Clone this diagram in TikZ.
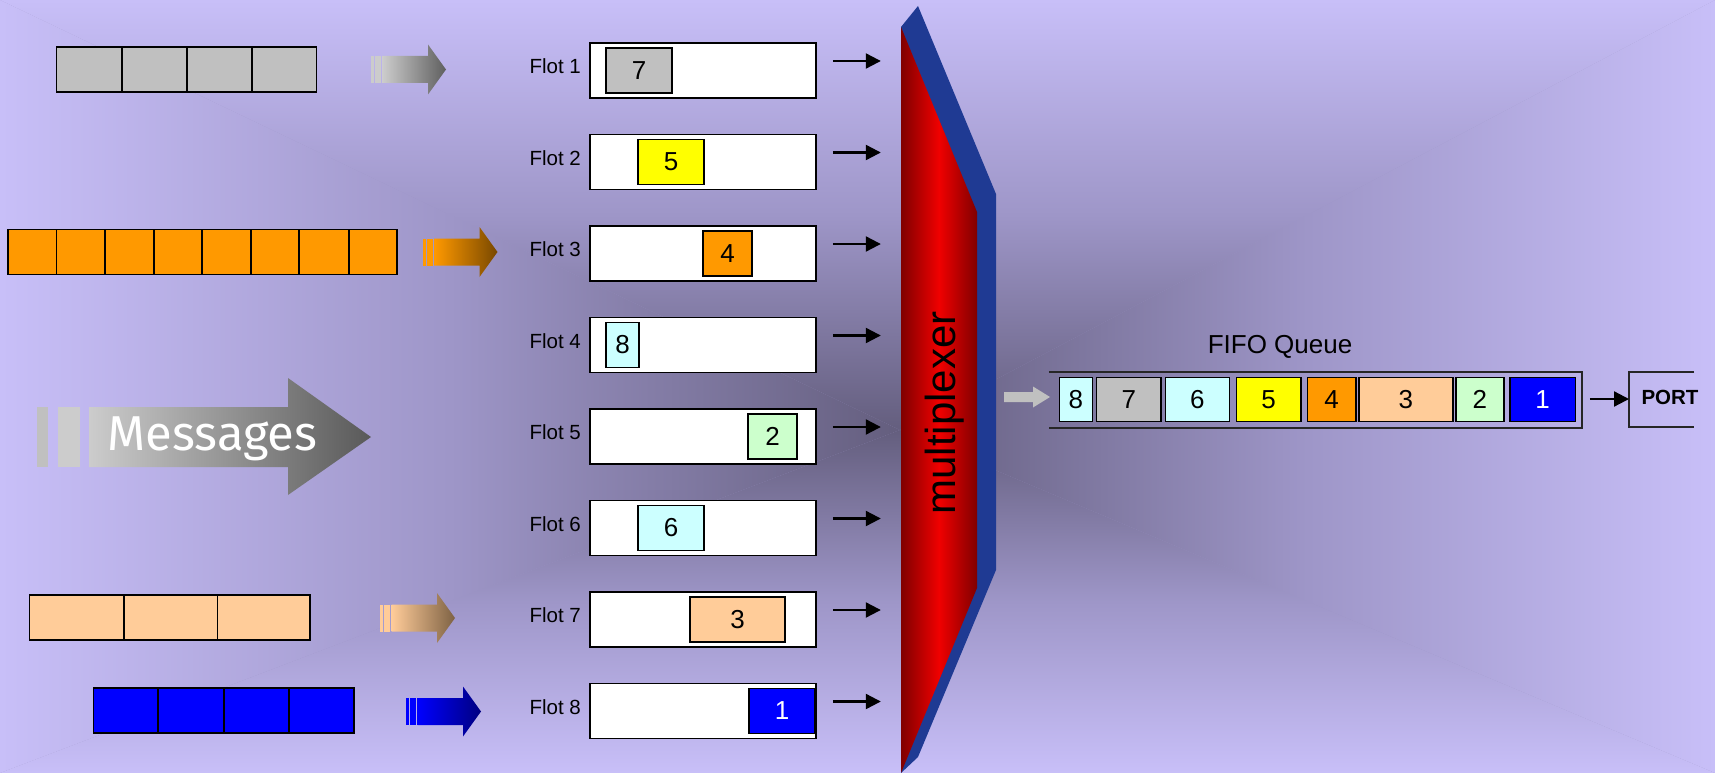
\documentclass[tikz,border=0pt]{standalone}
\usepackage{fontspec}
\setmainfont{Liberation Sans}
\newfontfamily\msgfont{Fira Sans}
\usetikzlibrary{arrows.meta}
\definecolor{bgL}{RGB}{200,191,248}
\definecolor{bgM}{RGB}{158,150,200}
\definecolor{bgD}{RGB}{100,94,126}
\definecolor{cgray}{RGB}{192,192,192}
\definecolor{corange}{RGB}{255,153,0}
\definecolor{cpeach}{RGB}{255,204,153}
\definecolor{cblue}{RGB}{0,0,255}
\definecolor{cyanl}{RGB}{204,255,255}
\definecolor{cyellow}{RGB}{255,255,0}
\definecolor{lgreen}{RGB}{204,255,204}
\definecolor{muxblue}{RGB}{31,58,147}
\definecolor{muxdark}{RGB}{128,0,0}
\definecolor{muxred}{RGB}{240,0,0}
\newcommand\barrow[5]{%
  \fill[#4] (#2,#3-13.5) rectangle (#2+3,#3+13.5);
  \fill[#4] (#2+4,#3-13.5) rectangle (#2+10,#3+13.5);
  \shade[left color=#4,right color=#5] (#2+11.5,#3-13.5) -- (#2+57,#3-13.5) -- (#2+57,#3-25) -- (#2+75,#3) coordinate (#1) -- (#2+57,#3+25) -- (#2+57,#3+13.5) -- (#2+11.5,#3+13.5) -- cycle;}
\begin{document}
\begin{tikzpicture}[x=1pt,y=-1pt,
  blk/.style={draw=black,line width=1.4pt,inner sep=0pt,outer sep=0pt,minimum height=45pt},
  flotbox/.style={draw=black,line width=1.6pt,fill=white,inner sep=0pt,minimum width=226pt,minimum height=55pt},
  flotlbl/.style={font=\fontsize{20.5}{24}\selectfont,inner sep=0pt},
  pkt/.style={draw=black,line width=1.4pt,inner sep=0pt,minimum height=45pt,font=\fontsize{26}{30}\selectfont},
  qcell/.style={draw=black,line width=1.4pt,inner sep=0pt,minimum height=44pt,font=\fontsize{26}{30}\selectfont},
  smallarr/.style={line width=2.2pt,-{Triangle[length=15pt,width=15pt]}},
  frame/.style={draw=black!85,line width=1.8pt}]
\useasboundingbox (0,0) rectangle (1715,773);
% background rectangular gradient
\coordinate (C) at (900,430);
\fill[bgM] (0,0) rectangle (1715,773);
\shade[top color=bgL,bottom color=bgD,middle color=bgM] (0,0) -- (1715,0) -- (C) -- cycle;
\shade[left color=bgL,right color=bgD,middle color=bgM] (0,0) -- (C) -- (0,773) -- cycle;
\shade[left color=bgD,right color=bgL,middle color=bgM] (1715,0) -- (C) -- (1715,773) -- cycle;
\shade[top color=bgD,bottom color=bgL,middle color=bgM] (0,773) -- (C) -- (1715,773) -- cycle;

% incoming message rows
\foreach \x [remember=\x as \px (initially 56.4), count=\i] in {121.8,186.8,251.8,316.4}
  \node[blk,fill=cgray,minimum width={(\x-\px)*1pt}] (gr\i) at ({(\x+\px)/2},69.5) {};
\foreach \x [remember=\x as \px (initially 7.9), count=\i] in {56.4,105,154,202,251,299,349,397}
  \node[blk,fill=corange,minimum width={(\x-\px)*1pt}] (or\i) at ({(\x+\px)/2},252) {};
\foreach \x [remember=\x as \px (initially 29.6), count=\i] in {124,217.5,310}
  \node[blk,fill=cpeach,minimum width={(\x-\px)*1pt}] (pe\i) at ({(\x+\px)/2},617.5) {};
\foreach \x [remember=\x as \px (initially 93.6), count=\i] in {158,224,289,354}
  \node[blk,fill=cblue,minimum width={(\x-\px)*1pt}] (bl\i) at ({(\x+\px)/2},710.5) {};

% block arrows
\definecolor{ga}{RGB}{204,204,204}\definecolor{gb}{RGB}{95,95,95}
\definecolor{oa}{RGB}{255,153,0}\definecolor{ob}{RGB}{120,72,0}
\definecolor{pa}{RGB}{255,204,153}\definecolor{pb}{RGB}{126,98,68}
\definecolor{ba}{RGB}{0,0,255}\definecolor{bb}{RGB}{0,0,128}
\barrow{ga1}{371}{69.5}{ga}{gb}
\barrow{oa1}{422.5}{252}{oa}{ob}
\barrow{pa1}{380}{618}{pa}{pb}
\barrow{ba1}{406}{711.5}{ba}{bb}

% Messages arrow
\fill[cgray] (37,407) rectangle (48,467);
\fill[ga] (58,407) rectangle (80,467);
\shade[left color=ga,right color=black!65] (89,407) -- (288,407) -- (288,378) -- (371,437) coordinate (msgtip) -- (288,495) -- (288,467) -- (89,467) -- cycle;
\node[text=white,font=\msgfont\fontsize{49}{56}\selectfont,anchor=base,inner sep=0pt] (msg) at (212.5,450) {Messages};

% multiplexer
\fill[muxblue] (901,27) -- (918,6) -- (996,194) -- (996,570) -- (918,757) -- (901,773) -- cycle;
\shade[left color=muxdark,right color=muxdark,middle color=muxred] (901,27) -- (977,212) -- (977,588) -- (901,773) -- cycle;
\node[rotate=90,font=\fontsize{42}{48}\selectfont,inner sep=0pt] (mux) at (945,413) {multiplexer};

% flows
\foreach \k/\xa/\xb/\col/\txt/\tc in {1/606/672/cgray/7/black,2/638/704/cyellow/5/black,3/703/752/corange/4/black,4/606/639/cyanl/8/black,5/748/797/lgreen/2/black,6/638/704/cyanl/6/black,7/690/785/cpeach/3/black,8/749/815/cblue/1/white}{
  \pgfmathsetmacro\cy{70.5+(\k-1)*91.5}
  \node[flotbox] (flot\k) at (703,\cy) {};
  \node[flotlbl,anchor=base east] (lbl\k) at (581,\cy+3) {Flot \k};
  \node[pkt,fill=\col,text=\tc,minimum width={(\xb-\xa)*1pt}] (p\k) at ({(\xa+\xb)/2},\cy) {\txt};
  \draw[smallarr] ([xshift=16pt,yshift=9.5pt]flot\k.east) -- ++(48,0);
}

% FIFO queue
\node[font=\fontsize{26}{30}\selectfont,anchor=base,inner sep=0pt] (fifo) at (1280,353) {FIFO Queue};
\node[minimum width=533pt,minimum height=56pt,inner sep=0pt] (queue) at (1315.5,400) {};
\draw[frame] (queue.north west) -- (queue.north east) -- (queue.south east) -- (queue.south west);
\foreach \i/\xa/\xb/\col/\tc in {8/1059.3/1092.6/cyanl/black,7/1096.7/1161/cgray/black,6/1165.5/1229.4/cyanl/black,5/1236.2/1301/cyellow/black,4/1307.3/1356/corange/black,3/1358.9/1452.8/cpeach/black,2/1456/1503.9/lgreen/black,1/1509.8/1575.5/cblue/white}
  \node[qcell,fill=\col,text=\tc,minimum width={(\xb-\xa)*1pt}] (q\i) at ({(\xa+\xb)/2},399.7) {\i};

% input arrow to queue
\fill[cgray] (1004,392) -- (1033,392) -- (1033,386.5) -- (1050,397) coordinate (qin) -- (1033,407.5) -- (1033,402) -- (1004,402) -- cycle;

% port
\coordinate (pTR) at (1694,372);
\coordinate (pTL) at (1629,372);
\coordinate (pBL) at (1629,427);
\coordinate (pBR) at (1694,427);
\draw[frame] (pTR) -- (pTL) -- (pBL) -- (pBR);
\node[font=\bfseries\fontsize{20.5}{24}\selectfont,inner sep=0pt] (port) at (1670,397) {PORT};
\coordinate (portL) at (1629,399);
\draw[smallarr] ([xshift=7.6pt,yshift=1pt]queue.east) -- (portL);
\end{tikzpicture}
\end{document}
